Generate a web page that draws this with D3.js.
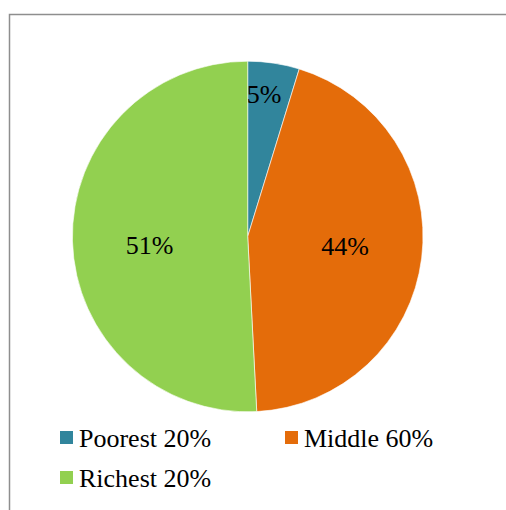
<!DOCTYPE html>
<html>
<head>
<meta charset="utf-8">
<script src="https://cdn.jsdelivr.net/npm/d3@7"></script>
<style>
  body { margin: 0; background: #fff; }
  svg { display: block; }
  svg text { font-family: "Liberation Serif", "DejaVu Serif", "Times New Roman", Times, serif; font-size: 26px; fill: #000; }
</style>
</head>
<body>
<div id="chart"></div>
<script>
// slice data
const categories = ["Poorest 20%", "Middle 60%", "Richest 20%"];
const shares = [4.75, 44.43, 50.82];
const labels = ["5%", "44%", "51%"];
const colors = ["#31859C", "#E46C0A", "#92D050"];

const width = 506;
const height = 510;
const cx = 247.7, cy = 236.5, radius = 175.3;

const svg = d3.select("#chart")
    .append("svg")
    .attr("width", width)
    .attr("height", height);

// frame (only top and left visible in the crop)
svg.append("rect")
    .attr("x", 9.5)
    .attr("y", 14.5)
    .attr("width", width + 20)
    .attr("height", height + 20)
    .attr("fill", "none")
    .attr("stroke", "#8e8e8e")
    .attr("stroke-width", 1.5);

const pie = d3.pie().sort(null).value(d => d.value);
const data = categories.map((c, i) => ({ name: c, value: shares[i], label: labels[i], color: colors[i] }));
const arcs = pie(data);

const arc = d3.arc().innerRadius(0).outerRadius(radius);

const g = svg.append("g")
    .attr("transform", `translate(${cx},${cy})`);

g.selectAll("path")
    .data(arcs)
    .join("path")
    .attr("d", arc)
    .attr("fill", d => d.data.color)
    .attr("stroke", "#fff")
    .attr("stroke-width", 0.6);

// small slices get their label pushed further out, like Excel's best fit
const labelArc = d => {
    const small = (d.endAngle - d.startAngle) < 0.6;
    const r = small ? radius * 0.82 : radius * 0.56;
    const c = d3.arc().innerRadius(r).outerRadius(r).centroid(d);
    return small ? [c[0] - 5, c[1] + 9] : [c[0], c[1] + (c[1] > 5 ? 6 : 15)];
};

g.selectAll("text.label")
    .data(arcs)
    .join("text")
    .attr("class", "label")
    .attr("x", d => labelArc(d)[0])
    .attr("y", d => labelArc(d)[1])
    .attr("text-anchor", "middle")
    .text(d => d.data.label);

// legend, two columns
const legendX = d3.scaleOrdinal().domain([0, 1]).range([60, 285]);
const legendY = d3.scaleOrdinal().domain([0, 1]).range([431, 471]);

const legend = svg.append("g")
    .selectAll("g")
    .data(data)
    .join("g")
    .attr("transform", (d, i) => `translate(${legendX(i % 2)},${legendY(Math.floor(i / 2))})`);

legend.append("rect")
    .attr("width", 13)
    .attr("height", 13)
    .attr("fill", d => d.color);

legend.append("text")
    .attr("x", 19)
    .attr("y", 15.7)
    .text(d => d.name);
</script>
</body>
</html>
